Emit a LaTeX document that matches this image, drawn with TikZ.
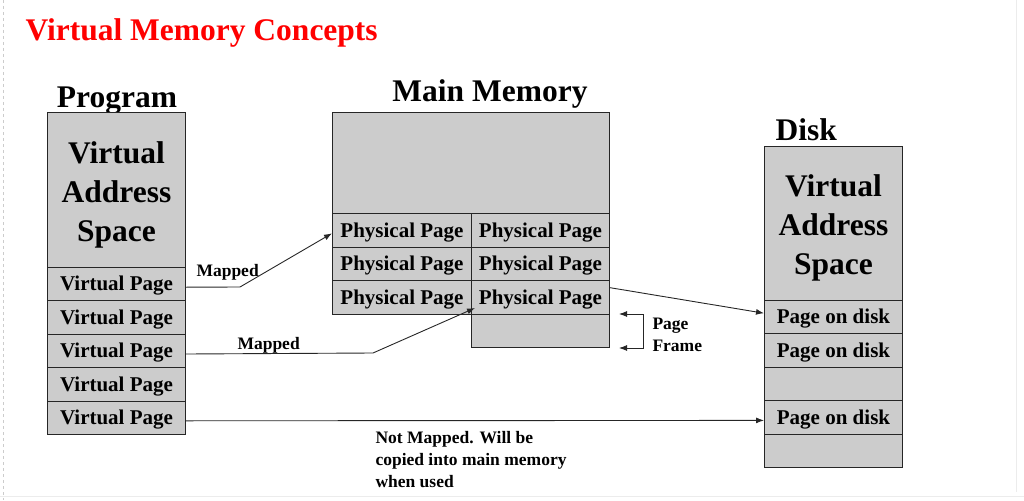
\documentclass[tikz,border=0pt]{standalone}
\usepackage{fontspec}
\setmainfont{Liberation Serif}
\usepackage{tikz}
\usetikzlibrary{arrows.meta}

\newcommand{\headfont}{\fontsize{31.5}{39}\selectfont\bfseries}
\newcommand{\cellfont}{\fontsize{21}{24}\selectfont\bfseries}
\newcommand{\notefont}{\fontsize{17.5}{22}\selectfont\bfseries}

\begin{document}
\begin{tikzpicture}[x=1pt, y=-1pt, >={Latex[length=8pt,width=6pt]}, line width=1pt,
    cell/.style={draw=black!85, fill=gray!40, anchor=north west, inner sep=0pt,
        minimum width=138pt, minimum height=33.4pt, text height=17.5pt, text depth=4pt, font=\cellfont},
    bigcell/.style={cell, label={[font=\headfont, align=center, yshift=-4.5pt]center:#1}},
    head/.style={anchor=base, font=\headfont},
    note/.style={anchor=north west, align=left, font=\notefont, inner sep=0pt},
    link/.style={->, draw=black!85, line width=0.9pt}]
    \useasboundingbox (0,0) rectangle (1024,500);

    % slide edges
    \draw[gray!40, dashed, line width=0.6pt] (3,0) -- (3,500);
    \draw[gray!15, line width=0.8pt] (1016,0) -- (1016,492);
    \draw[gray!15, line width=0.8pt] (0,496) -- (1024,496);

    \node[anchor=base west, font=\headfont, text=red, inner sep=0pt] (title) at (25,41) {Virtual Memory Concepts};

    % program
    \node[head] (proglbl) at (117,108) {Program};
    \node[bigcell={Virtual\\Address\\Space}, minimum height=155pt] (progtop) at (47,112) {};
    \foreach \i in {1,...,5}
        \node[cell] (vp\i) at (47,{267+33.4*(\i-1)}) {Virtual Page};

    % main memory
    \node[head] (memlbl) at (490,102) {Main Memory};
    \node[cell, minimum width=277pt, minimum height=101pt] (memtop) at (332,112) {};
    \foreach \i in {1,2,3} {
        \node[cell, minimum width=139pt, minimum height=33.67pt] (pp\i a) at (332,{213+33.67*(\i-1)}) {Physical Page};
        \node[cell, minimum height=33.67pt] (pp\i b) at (471,{213+33.67*(\i-1)}) {Physical Page};
    }
    \node[cell, minimum height=33pt] (frame) at (471,314) {};

    % disk
    \node[anchor=base west, font=\headfont, inner sep=0pt] (disklbl) at (775,140) {Disk};
    \node[bigcell={Virtual\\Address\\Space}, minimum height=154pt] (disktop) at (764,146) {};
    \foreach \i/\t in {1/Page on disk, 2/Page on disk, 3/, 4/Page on disk, 5/}
        \node[cell] (dk\i) at (764,{300+33.4*(\i-1)}) {\t};

    % connectors
    \coordinate (bend1) at (240,287);
    \coordinate (bend2) at (373,353);
    \draw[link] ([yshift=-3pt]vp1.east) -- (bend1) -- ([yshift=-3pt]pp1a.west);
    \draw[link] ([yshift=-3pt]vp3.east) -- (bend2) -- ([xshift=4pt,yshift=7pt]pp3b.south west);
    \draw[link] ([yshift=10pt]pp3b.east) -- ([yshift=4pt]dk1.west);
    \draw[link] ([yshift=-3pt]vp5.east) -- ([yshift=-3pt]dk4.west);
    \draw[link, <->] ([xshift=9pt]frame.north east) -- ++(24,0) |- ([xshift=9pt]frame.south east);

    \node[note, anchor=base west] (map1) at (196,276) {Mapped};
    \node[note, anchor=base west] (map2) at (237,349) {Mapped};
    \node[note] (framelbl) at (652,317.5) {Page\\Frame};
    \node[note] (notmap) at (375,430.5) {Not Mapped. Will be\\copied into main memory\\when used};
\end{tikzpicture}
\end{document}
